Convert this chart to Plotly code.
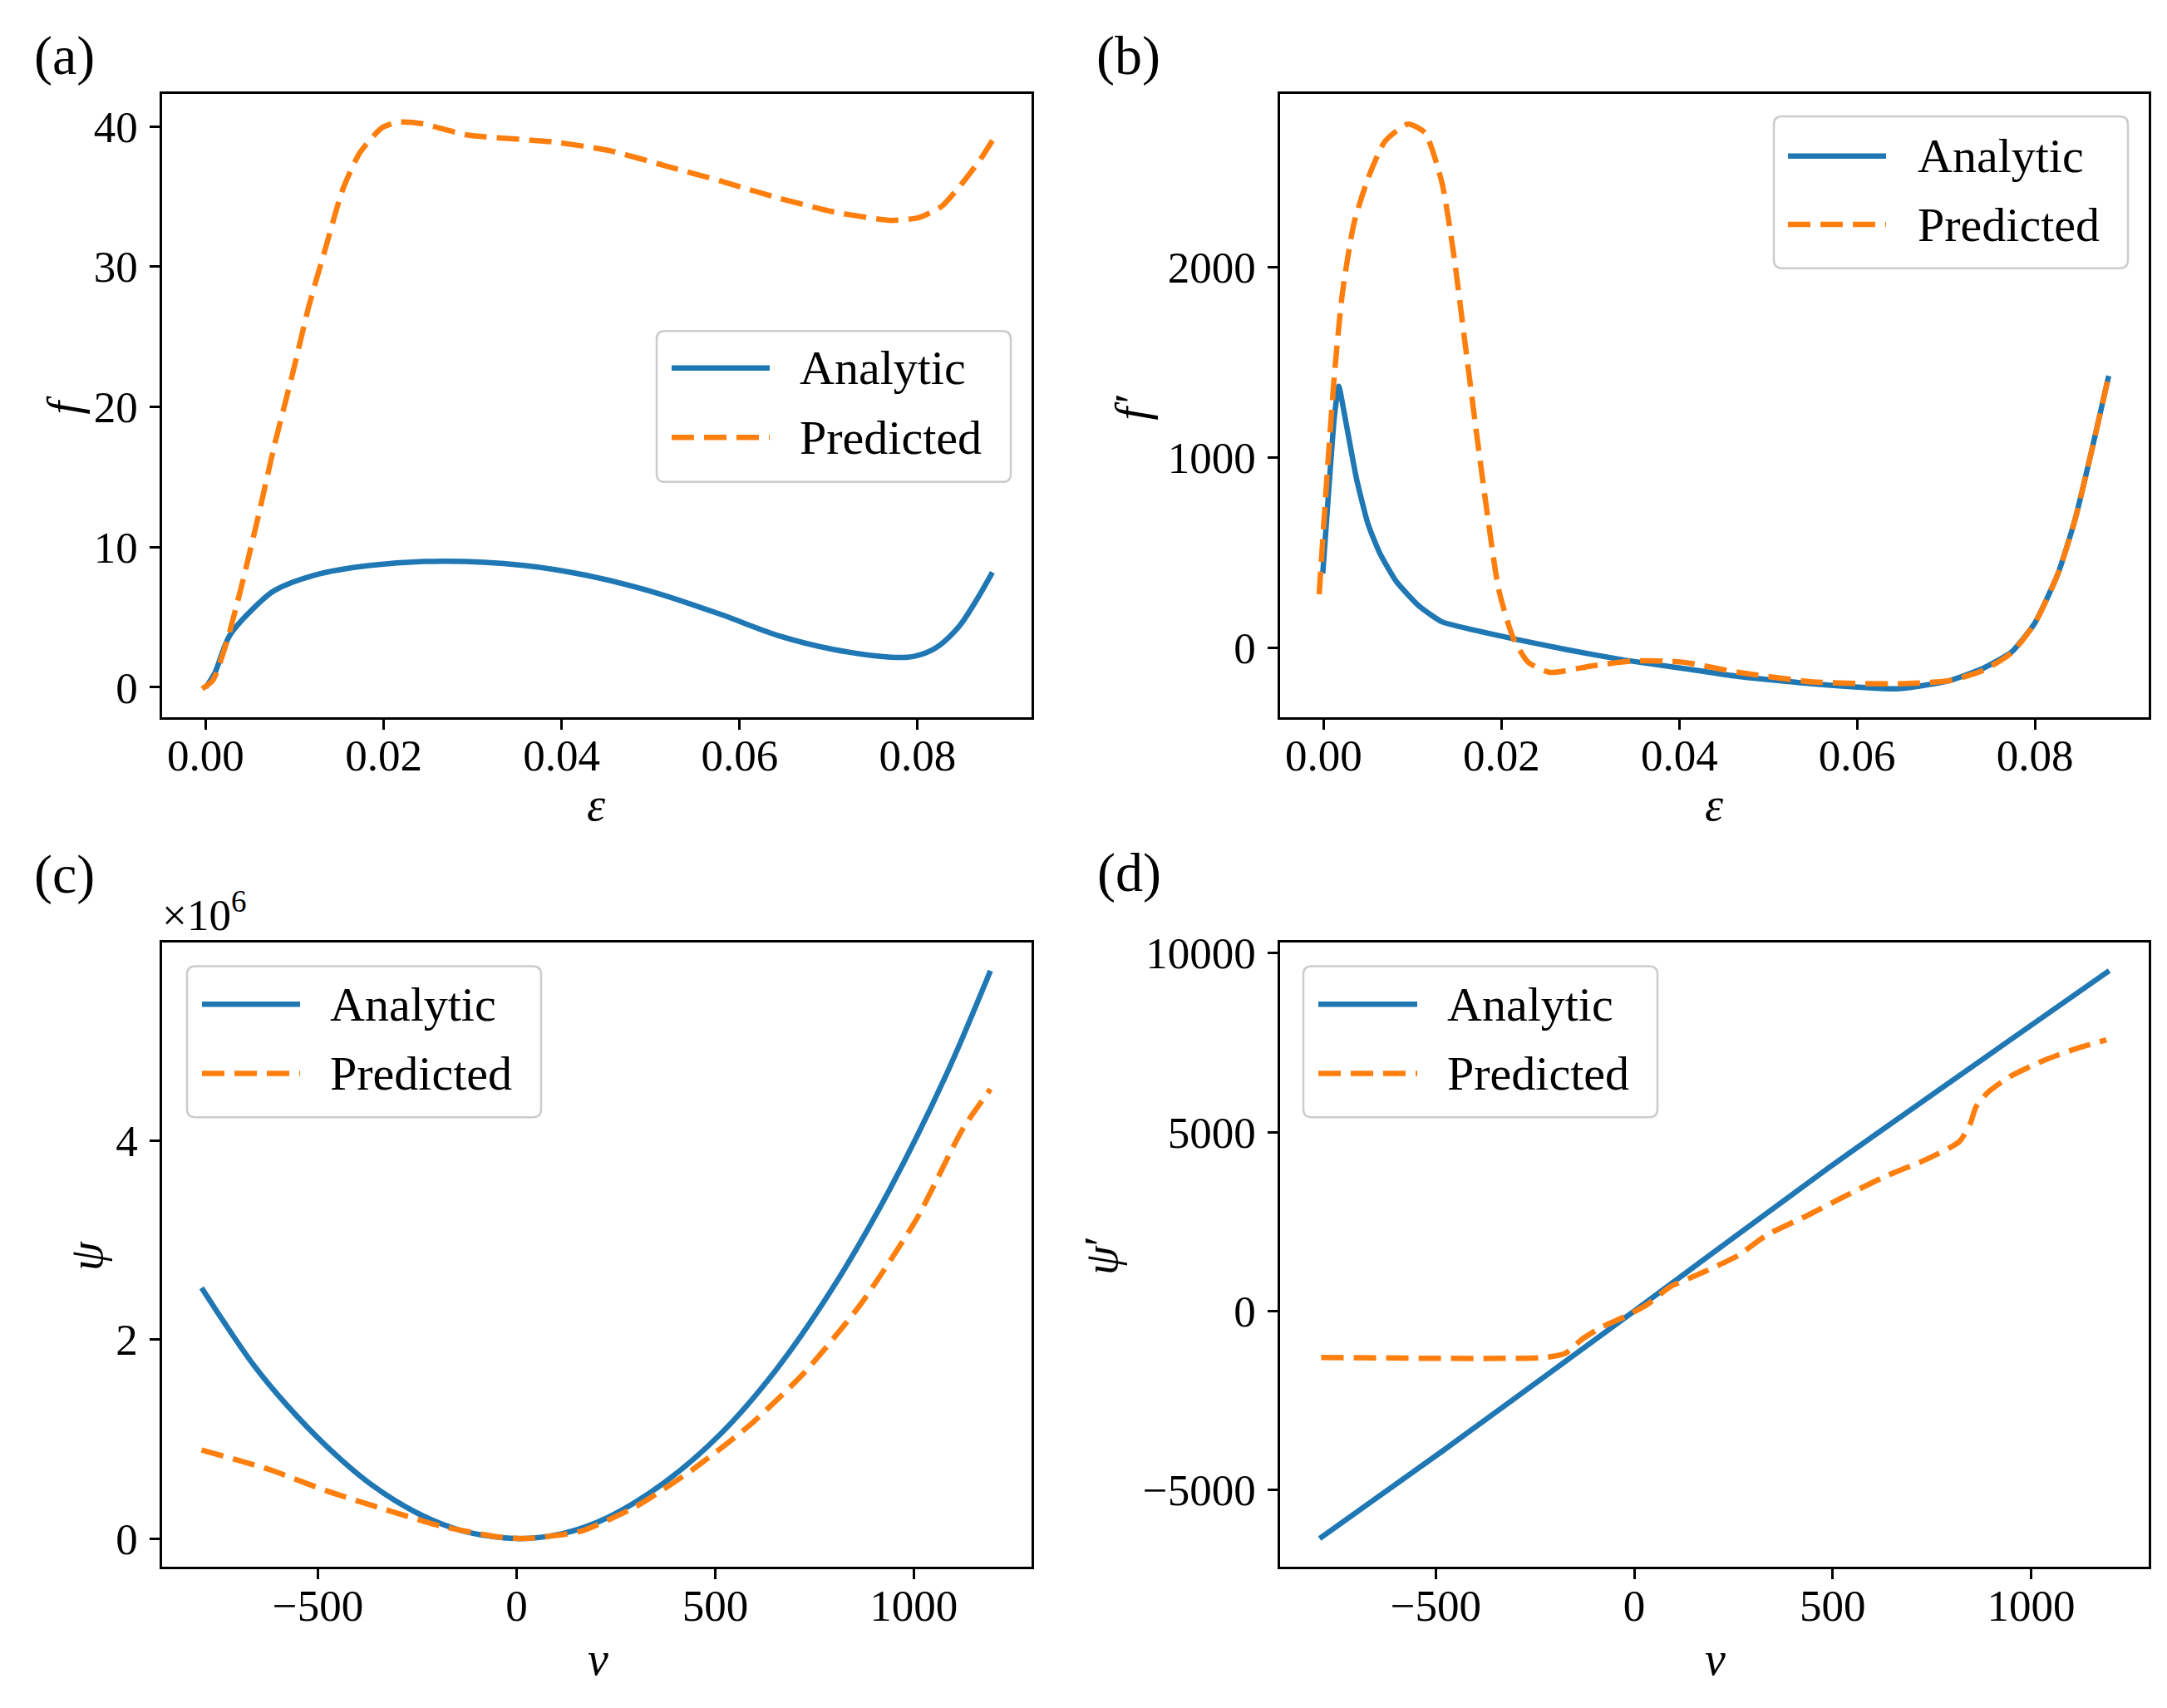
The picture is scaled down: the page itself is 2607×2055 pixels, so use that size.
import plotly.graph_objects as go

W, H = 2607, 2055
DY = 10  # small vertical correction of the page placement
BLUE = "#1f77b4"
ORANGE = "#ff7f0e"
FONT = "Liberation Serif"

# (a) f vs strain
eps_a_analytic = [0.0, 0.0010, 0.0027, 0.0058, 0.0077, 0.0122, 0.0185, 0.0268, 0.0357, 0.0427,
                  0.0503, 0.0579, 0.0643, 0.0706, 0.0770, 0.0795, 0.0820, 0.0846, 0.0865, 0.0884]
f_analytic = [0.0, 1.0, 3.7, 5.9, 6.9, 8.0, 8.7, 9.0, 8.7, 8.0,
              6.8, 5.2, 3.7, 2.7, 2.15, 2.2, 2.8, 4.3, 6.1, 8.2]
eps_a_pred = [-0.0004, 0.0008, 0.0023, 0.0039, 0.0058, 0.0077, 0.0097, 0.0116, 0.0135, 0.0154,
              0.0173, 0.0198, 0.0217, 0.0243, 0.0293, 0.0389, 0.0452, 0.0516, 0.0579, 0.0643,
              0.0706, 0.0770, 0.0801, 0.0827, 0.0852, 0.0871, 0.0884]
f_pred = [-0.1, 0.5, 3.1, 6.9, 11.9, 17.2, 22.2, 27.2, 31.4, 35.5,
          38.1, 39.9, 40.3, 40.2, 39.4, 38.9, 38.3, 37.2, 36.1, 34.9,
          33.9, 33.3, 33.5, 34.3, 36.1, 37.7, 39.0]

# (b) f' vs strain
eps_b_analytic = [-0.0001, 0.0005, 0.0012, 0.0017, 0.0024, 0.0037, 0.0050, 0.0063, 0.0082, 0.0108,
                  0.0133, 0.0165, 0.0217, 0.0274, 0.0338, 0.0403, 0.0467, 0.0550, 0.0646, 0.0704,
                  0.0742, 0.0774, 0.0800, 0.0826, 0.0845, 0.0864, 0.0883]
fp_analytic = [390, 780, 1212, 1374, 1212, 887, 649, 498, 346, 216,
               136, 97, 43, -11, -65, -108, -152, -190, -216, -173,
               -108, -22, 130, 390, 671, 1039, 1429]
eps_b_pred = [-0.0005, 0.0002, 0.0012, 0.0021, 0.0034, 0.0050, 0.0069, 0.0095, 0.0114, 0.0133,
              0.0146, 0.0159, 0.0172, 0.0185, 0.0197, 0.0213, 0.0230, 0.0255, 0.0300, 0.0351,
              0.0403, 0.0467, 0.0550, 0.0646, 0.0704, 0.0742, 0.0774, 0.0800, 0.0826, 0.0845,
              0.0864, 0.0883]
fp_pred = [281, 780, 1429, 1861, 2229, 2468, 2662, 2753, 2706, 2446,
           2078, 1602, 1126, 671, 303, 54, -76, -130, -97, -69,
           -76, -130, -180, -190, -173, -119, -26, 130, 390, 671,
           1039, 1429]

# (c) psi vs v  (psi in units of 1e6)
v_c_analytic = [-793, -734, -663, -578, -479, -365, -252, -139, 0, 116,
                229, 371, 513, 654, 796, 938, 1079, 1193]
psi_analytic = [2.52, 2.16, 1.75, 1.34, 0.93, 0.54, 0.26, 0.08, 0.0, 0.05,
                0.21, 0.56, 1.05, 1.70, 2.52, 3.50, 4.64, 5.71]
v_c_pred = [-793, -620, -479, -337, -195, -54, 17, 159, 300, 442,
            584, 725, 867, 1008, 1122, 1193]
psi_pred = [0.89, 0.69, 0.48, 0.30, 0.13, 0.02, 0.0, 0.07, 0.32, 0.69,
            1.13, 1.67, 2.36, 3.22, 4.11, 4.52]

# (d) psi' vs v
v_d_analytic = [-793, -483, 0, 489, 1197]
psip_analytic = [-6360, -3913, 0, 3993, 9511]
v_d_pred = [-789, -224, -174, -131, -81, -24, 33, 90, 176, 261,
            333, 433, 519, 633, 733, 819, 847, 861, 890, 947,
            1033, 1119, 1190]
psip_pred = [-1297, -1297, -1183, -785, -444, -159, 182, 671, 1092, 1547,
             2116, 2651, 3140, 3766, 4221, 4733, 5245, 5700, 6098, 6553,
             7008, 7350, 7577]

# ticks
eps_ticks = [0.0, 0.02, 0.04, 0.06, 0.08]
eps_ticktext = ["0.00", "0.02", "0.04", "0.06", "0.08"]
f_ticks = [0, 10, 20, 30, 40]
fp_ticks = [0, 1000, 2000]
psi_ticks = [0, 2, 4]
v_ticks = [-500, 0, 500, 1000]
v_ticktext = ["\u2212500", "0", "500", "1000"]
psip_ticks = [-5000, 0, 5000, 10000]
psip_ticktext = ["\u22125000", "0", "5000", "10000"]


def X(px):
    return px / W


def Y(py):
    return 1 - (py - DY) / H


fig = go.Figure()

panels = [
    ("x", "y", eps_a_analytic, f_analytic, eps_a_pred, f_pred, 0.9),
    ("x2", "y2", eps_b_analytic, fp_analytic, eps_b_pred, fp_pred, 0.5),
    ("x3", "y3", v_c_analytic, psi_analytic, v_c_pred, psi_pred, 0.9),
    ("x4", "y4", v_d_analytic, psip_analytic, v_d_pred, psip_pred, 0.6),
]
for xa, ya, xa_an, ya_an, xa_pr, ya_pr, sm in panels:
    fig.add_trace(go.Scatter(x=xa_an, y=ya_an, xaxis=xa, yaxis=ya, mode="lines",
                             line=dict(color=BLUE, width=6.5, shape="spline", smoothing=sm),
                             showlegend=False))
    fig.add_trace(go.Scatter(x=xa_pr, y=ya_pr, xaxis=xa, yaxis=ya, mode="lines",
                             line=dict(color=ORANGE, width=6.5, dash="27px,12px",
                                       shape="spline", smoothing=0.6),
                             showlegend=False))

axis_common = dict(showline=True, linecolor="black", linewidth=2.5, mirror=True,
                   ticks="outside", ticklen=12, tickwidth=2.5, tickcolor="black",
                   showgrid=False, zeroline=False,
                   tickfont=dict(family=FONT, size=53, color="black"))
xaxis_common = dict(axis_common, ticklabelstandoff=-14)
yaxis_common = dict(axis_common, ticklabelstandoff=4)

left_dom = [X(195), X(1241)]
right_dom = [X(1540), X(2585)]
top_dom = [Y(864), Y(109)]
bot_dom = [Y(1894), Y(1137)]

fig.update_layout(
    width=W, height=H,
    margin=dict(l=0, r=0, t=0, b=0),
    paper_bgcolor="white", plot_bgcolor="white",
    xaxis=dict(domain=left_dom, anchor="y", range=[-0.0049, 0.0928],
               tickvals=eps_ticks, ticktext=eps_ticktext, **xaxis_common),
    yaxis=dict(domain=top_dom, anchor="x", range=[-2.12, 42.3],
               tickvals=f_ticks, ticktext=[str(t) for t in f_ticks], **yaxis_common),
    xaxis2=dict(domain=right_dom, anchor="y2", range=[-0.0049, 0.0928],
                tickvals=eps_ticks, ticktext=eps_ticktext, **xaxis_common),
    yaxis2=dict(domain=top_dom, anchor="x2", range=[-365, 2910],
                tickvals=fp_ticks, ticktext=[str(t) for t in fp_ticks], **yaxis_common),
    xaxis3=dict(domain=left_dom, anchor="y3", range=[-892.5, 1296.5],
                tickvals=v_ticks, ticktext=v_ticktext, **xaxis_common),
    yaxis3=dict(domain=bot_dom, anchor="x3", range=[-0.2855, 5.9955],
                tickvals=psi_ticks, ticktext=[str(t) for t in psi_ticks], **yaxis_common),
    xaxis4=dict(domain=right_dom, anchor="y4", range=[-892.5, 1296.5],
                tickvals=v_ticks, ticktext=v_ticktext, **xaxis_common),
    yaxis4=dict(domain=bot_dom, anchor="x4", range=[-7154, 10305],
                tickvals=psip_ticks, ticktext=psip_ticktext, **yaxis_common),
)


def text(px, py, s, size=56, angle=0, xanchor="center", yanchor="middle"):
    fig.add_annotation(x=X(px), y=Y(py), xref="paper", yref="paper", text=s,
                       showarrow=False, textangle=angle, xanchor=xanchor, yanchor=yanchor,
                       font=dict(family=FONT, size=size, color="black"))


# panel letters
for lbl, px, py in [("(a)", 77, 62), ("(b)", 1357, 62), ("(c)", 77, 1055), ("(d)", 1358, 1053)]:
    text(px, py, lbl, size=66)

# axis titles
text(717, 970, "<i>\u03b5</i>")
text(2062, 970, "<i>\u03b5</i>")
text(719, 2006, "<i>v</i>")
text(2063, 2006, "<i>v</i>")
text(77, 486, "<i>f</i>", angle=-90)
text(1362, 488, "<i>f</i>\u200a\u2032", angle=-90)
text(104, 1517, "<i>\u03c8</i>", angle=-90)
text(1325, 1517, "<i>\u03c8</i>\u2032", angle=-90)

# offset text for (c)
text(193, 1135, "\u00d710<sup>6</sup>", size=53, xanchor="left", yanchor="bottom")


def legend(x0, y0, x1, y1, lx0, lx1, ya, yp, tx):
    r = 10
    path = (f"M {X(x0 + r)},{Y(y0)} L {X(x1 - r)},{Y(y0)} Q {X(x1)},{Y(y0)} {X(x1)},{Y(y0 + r)} "
            f"L {X(x1)},{Y(y1 - r)} Q {X(x1)},{Y(y1)} {X(x1 - r)},{Y(y1)} "
            f"L {X(x0 + r)},{Y(y1)} Q {X(x0)},{Y(y1)} {X(x0)},{Y(y1 - r)} "
            f"L {X(x0)},{Y(y0 + r)} Q {X(x0)},{Y(y0)} {X(x0 + r)},{Y(y0)} Z")
    fig.add_shape(type="path", path=path, xref="paper", yref="paper",
                  fillcolor="rgba(255,255,255,0.8)", line=dict(color="#cccccc", width=2.5),
                  layer="above")
    fig.add_shape(type="line", xref="paper", yref="paper", x0=X(lx0), x1=X(lx1), y0=Y(ya), y1=Y(ya),
                  line=dict(color=BLUE, width=6.5), layer="above")
    fig.add_shape(type="line", xref="paper", yref="paper", x0=X(lx0), x1=X(lx1), y0=Y(yp), y1=Y(yp),
                  line=dict(color=ORANGE, width=6.5, dash="27px,12px"), layer="above")
    text(tx, ya, "Analytic", size=58, xanchor="left")
    text(tx, yp, "Predicted", size=58, xanchor="left")


legend(790, 396, 1216, 579, 808, 926, 441, 525, 960)
legend(2134, 136, 2560, 320, 2151, 2269, 184, 267, 2305)
legend(225, 1166, 651, 1349, 243, 361, 1212, 1296, 395)
legend(1568, 1166, 1994, 1349, 1586, 1705, 1212, 1296, 1739)

fig.write_html("out.html", config={"displayModeBar": False},
               post_script="document.body.style.margin='0';")
